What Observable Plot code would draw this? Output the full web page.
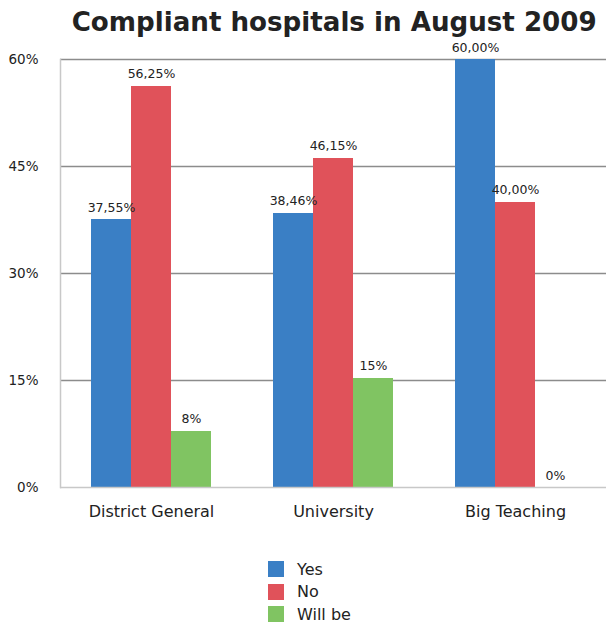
<!DOCTYPE html>
<html><head><meta charset="utf-8">
<script src="https://cdn.jsdelivr.net/npm/d3@7"></script>
<script src="https://cdn.jsdelivr.net/npm/@observablehq/plot@0.6"></script>
<style>
body{margin:0;background:#fff;font-family:"DejaVu Sans",sans-serif;}
#wrap{position:relative;width:607px;height:623px;overflow:hidden;}
#title{position:absolute;left:-166px;width:1000px;top:2px;text-align:center;line-height:40px;white-space:nowrap;}
#title span{display:inline-block;font-weight:bold;font-size:26px;color:#222;transform-origin:50% 50%;}
#chart{position:absolute;left:0;top:40px;}
#legend{position:absolute;left:268px;top:558px;}
.item{display:flex;align-items:center;height:22.5px;font-size:16px;color:#222}
.sw{width:16px;height:16px;margin-right:13px}
</style></head><body>
<div id="wrap"><div id="title"><span id="titleText">Compliant hospitals in August 2009</span></div><div id="chart"></div><div id="legend"></div></div>
<script>
const categories = ["District General", "University", "Big Teaching"];
const seriesNames = ["Yes", "No", "Will be"];
const yesValues = [37.55, 38.46, 60.00];
const noValues = [56.25, 46.15, 40.00];
const willBeValues = [7.9, 15.3, 0];
const yesLabels = ["37,55%", "38,46%", "60,00%"];
const noLabels = ["56,25%", "46,15%", "40,00%"];
const willBeLabels = ["8%", "15%", "0%"];
const yTicks = [0, 15, 30, 45, 60];
const gridTicks = [15, 30, 45, 60];
const colors = ["#3a7fc5", "#e0525a", "#80c462"];

const valueSets = [yesValues, noValues, willBeValues];
const labelSets = [yesLabels, noLabels, willBeLabels];
const rows = [];
categories.forEach((c, i) => {
  seriesNames.forEach((s, j) => {
    rows.push({category: c, series: s, value: valueSets[j][i], label: labelSets[j][i]});
  });
});

const chart = Plot.plot({
  width: 607,
  height: 500,
  marginLeft: 60,
  marginRight: 1,
  marginTop: 19,
  marginBottom: 53,
  style: {fontFamily: "DejaVu Sans, sans-serif", color: "#222", background: "transparent"},
  fx: {domain: categories, padding: 0, label: null},
  x: {domain: seriesNames, paddingInner: 0, paddingOuter: 0.74, axis: null},
  y: {domain: [0, 60], label: null},
  color: {domain: seriesNames, range: colors},
  marks: [
    Plot.ruleY(gridTicks, {stroke: "#8c8c8c", strokeWidth: 1.5}),
    Plot.barY(rows, {fx: "category", x: "series", y: "value", fill: "series", shapeRendering: "crispEdges"}),
    Plot.text(rows, {fx: "category", x: "series", y: "value", text: "label", dy: -12, fontSize: 12.5, fill: "#222"}),
    Plot.ruleY([0], {stroke: "#c8c8c8", strokeWidth: 1.5}),
    Plot.frame({anchor: "left", stroke: "#c8c8c8", strokeWidth: 1.5, facet: "super"}),
    Plot.axisY({ticks: yTicks, tickFormat: d => d + "%", tickSize: 0, tickPadding: 22, fontSize: 13.5, label: null}),
    Plot.axisFx({anchor: "bottom", tickSize: 0, tickPadding: 18, fontSize: 16, label: null})
  ]
});
document.getElementById("chart").appendChild(chart);

const tt = document.getElementById("titleText");
const w = tt.getBoundingClientRect().width;
tt.style.transform = "scaleX(" + (525 / w) + ")";

const legend = document.getElementById("legend");
seriesNames.forEach((s, i) => {
  const item = document.createElement("div");
  item.className = "item";
  const sw = document.createElement("div");
  sw.className = "sw";
  sw.style.background = colors[i];
  const t = document.createElement("span");
  t.textContent = s;
  item.appendChild(sw);
  item.appendChild(t);
  legend.appendChild(item);
});
</script>
</body></html>
